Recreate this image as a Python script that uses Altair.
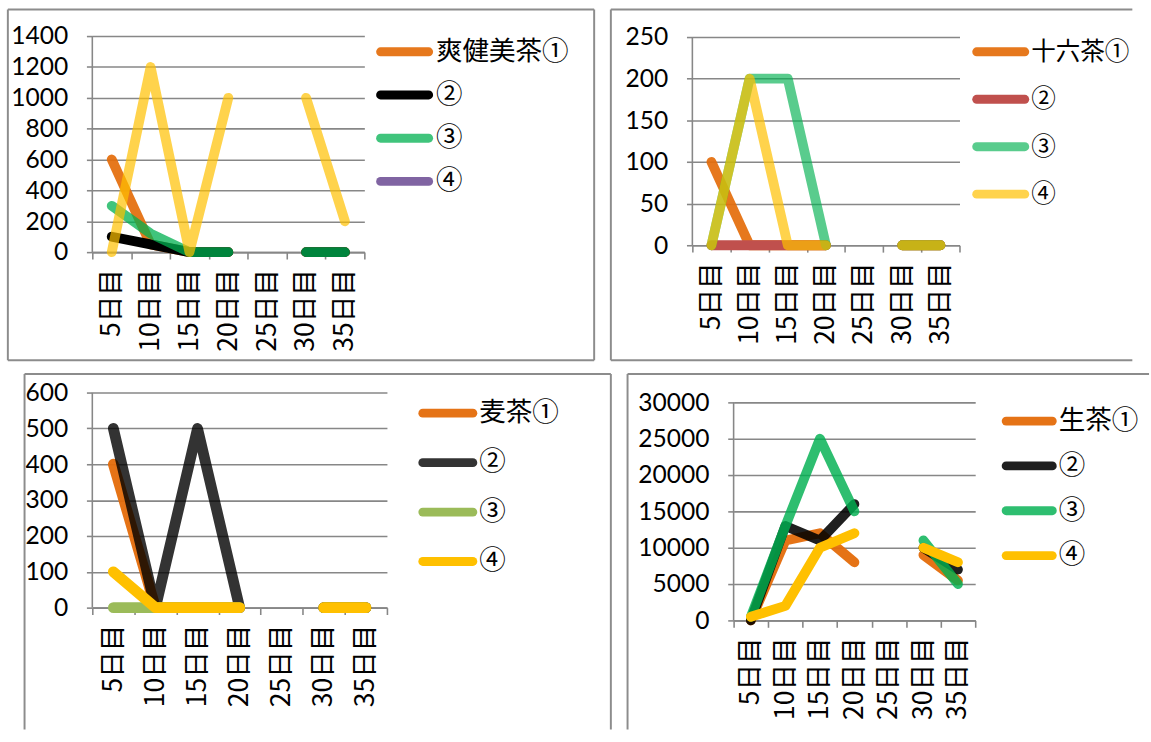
import altair as alt
import pandas as pd

# Shared category axis (days after opening)
days = ["5日目", "10日目", "15日目", "20日目", "25日目", "30日目", "35日目"]

# --- 爽健美茶 ---
soken_names = ["爽健美茶①", "②", "③", "④", "⑤"]
soken_1 = [600, 50, 0, 0, None, 0, 0]
soken_2 = [100, 50, 0, 0, None, 0, 0]
soken_3 = [300, 120, 0, 0, None, 0, 0]
soken_4 = [None, None, None, None, None, None, None]
soken_5 = [0, 1200, 0, 1000, None, 1000, 200]
soken_colors = ["rgba(228,108,10,0.92)", "rgba(0,0,0,1)", "rgba(0,176,80,0.75)",
                "rgba(128,100,162,1)", "rgba(255,192,0,0.7)"]
soken_ticks = [0, 200, 400, 600, 800, 1000, 1200, 1400]

# --- 十六茶 ---
juroku_names = ["十六茶①", "②", "③", "④"]
juroku_1 = [100, 0, 0, 0, None, 0, 0]
juroku_2 = [0, 0, 0, 0, None, 0, 0]
juroku_3 = [0, 200, 200, 0, None, 0, 0]
juroku_4 = [0, 200, 0, 0, None, 0, 0]
juroku_colors = ["rgba(228,108,10,0.92)", "rgba(192,80,77,1)", "rgba(0,176,80,0.65)",
                 "rgba(255,192,0,0.7)"]
juroku_ticks = [0, 50, 100, 150, 200, 250]

# --- 麦茶 ---
mugi_names = ["麦茶①", "②", "③", "④"]
mugi_1 = [400, 0, 0, 0, None, 0, 0]
mugi_2 = [500, 0, 500, 0, None, 0, 0]
mugi_3 = [0, 0, 0, 0, None, 0, 0]
mugi_4 = [100, 0, 0, 0, None, 0, 0]
mugi_colors = ["rgba(228,108,10,0.95)", "rgba(0,0,0,0.8)", "rgba(155,187,89,1)",
               "rgba(255,192,0,1)"]
mugi_ticks = [0, 100, 200, 300, 400, 500, 600]

# --- 生茶 ---
nama_names = ["生茶①", "②", "③", "④"]
nama_1 = [0, 11000, 12000, 8000, None, 9000, 5500]
nama_2 = [0, 13000, 11000, 16000, None, 10000, 7000]
nama_3 = [500, 13000, 25000, 15000, None, 11000, 5000]
nama_4 = [500, 2000, 10000, 12000, None, 10000, 8000]
nama_colors = ["rgba(228,108,10,0.95)", "rgba(0,0,0,0.88)", "rgba(0,176,80,0.82)",
               "rgba(255,192,0,1)"]
nama_ticks = [0, 5000, 10000, 15000, 20000, 25000, 30000]

GRID = "#878787"
FRAME = "#8c8c8c"
NUM_FONT = "Lato"
CJK_FONT = "Noto Sans CJK JP"
ONE_ROW = alt.Data(values=[{"edge": 1}])


def edge(x0, x1, y0, y1):
    """One straight side of a panel border, in pixels from the group origin."""
    enc = {"x": alt.value(x0), "y": alt.value(y0)}
    if x1 != x0:
        enc["x2"] = alt.value(x1)
    if y1 != y0:
        enc["y2"] = alt.value(y1)
    return alt.Chart(ONE_ROW).mark_rule(stroke=FRAME, strokeWidth=2).encode(**enc)


def panel(names, series, colors, ticks, origin, plot_top, width, height,
          frame, sides, legend, line_w=10, day_font=27, day_pad=10):
    """origin: page position of the group; everything else is given in page
    pixels too and converted to group-relative offsets here."""
    ox, oy = origin
    gap = plot_top - oy                     # blank band above the top gridline
    full_h = height + gap
    y_max = ticks[-1] * full_h / height     # scale top so the gap stays empty
    yscale = alt.Scale(domain=[ticks[0], y_max], nice=False)

    rows = []
    for name, vals in zip(names, series):
        for day, v in zip(days, vals):
            rows.append({"day": day, "series": name, "value": v})
    df = pd.DataFrame(rows)

    lines = alt.Chart(df).mark_line(
        strokeWidth=line_w, strokeCap="round", strokeJoin="round",
        invalid="break-paths-show-domains",
    ).encode(
        x=alt.X("day:N",
                scale=alt.Scale(type="band", domain=days,
                                paddingInner=0, paddingOuter=0),
                axis=alt.Axis(title=None, labelAngle=270, tickBand="extent",
                              grid=False, domainColor=GRID, domainWidth=1.6,
                              tickColor=GRID, tickWidth=1.6, tickSize=7,
                              labelFont=CJK_FONT, labelFontSize=day_font,
                              labelColor="black", labelPadding=day_pad)),
        y=alt.Y("value:Q", scale=yscale,
                axis=alt.Axis(title=None, orient="left", values=ticks, format="d",
                              grid=True, gridColor=GRID, gridWidth=1.6,
                              domain=False, tickColor=GRID, tickWidth=1.6,
                              tickSize=6, labelFont=NUM_FONT, labelFontSize=25,
                              labelColor="black", labelPadding=19)),
        color=alt.Color("series:N",
                        scale=alt.Scale(domain=names, range=colors),
                        legend=None),
    )

    # vertical axis line from 0 up to the top tick only
    axis_line = alt.Chart(ONE_ROW).mark_rule(stroke=GRID, strokeWidth=1.6).encode(
        x=alt.value(0),
        y=alt.Y(datum=ticks[0], scale=yscale, axis=None),
        y2=alt.Y2(datum=ticks[-1]),
    )

    # legend: swatch + label per listed series
    sx0, sx1, ly0, ly1, tx, fsize = legend
    leg_df = pd.DataFrame({"series": names[:4], "color": colors[:4]})
    leg_y = alt.Y("series:N", axis=None,
                  scale=alt.Scale(type="point", domain=names[:4], padding=0,
                                  range=[ly0 - oy, ly1 - oy]))
    swatch = alt.Chart(leg_df).mark_rule(strokeWidth=9, strokeCap="round").encode(
        x=alt.value(sx0 - ox + 4.5), x2=alt.value(sx1 - ox - 4.5), y=leg_y,
        color=alt.Color("color:N", scale=None),
    )
    label = alt.Chart(leg_df).mark_text(
        align="left", baseline="middle", font=CJK_FONT, fontSize=fsize, color="black"
    ).encode(x=alt.value(tx - ox), y=leg_y, text="series:N")

    left, right, top, bottom = (frame[0] - ox, frame[1] - ox,
                                frame[2] - oy, frame[3] - oy)
    border = []
    if "top" in sides:
        border.append(edge(left, right, top, top))
    if "bottom" in sides:
        border.append(edge(left, right, bottom, bottom))
    if "left" in sides:
        border.append(edge(left, left, top, bottom))
    if "right" in sides:
        border.append(edge(right, right, top, bottom))

    return alt.layer(*border, axis_line, lines, swatch, label).resolve_scale(
        y="independent", color="independent"
    ).properties(width=width, height=full_h)


p1 = panel(soken_names, [soken_1, soken_2, soken_3, soken_4, soken_5], soken_colors,
           soken_ticks, (93, 37), 37, 277, 220,
           (7, 604, 10, 367), ["top", "bottom", "left", "right"],
           (382, 440, 53, 185, 443, 27))
p2 = panel(juroku_names, [juroku_1, juroku_2, juroku_3, juroku_4], juroku_colors,
           juroku_ticks, (702, 37), 38, 272, 212,
           (619, 1150, 10, 367), ["top", "bottom", "left"],
           (987, 1045, 53, 198, 1047, 25))
p3 = panel(mugi_names, [mugi_1, mugi_2, mugi_3, mugi_4], mugi_colors,
           mugi_ticks, (76, 398), 398, 300, 219,
           (7, 604, 379, 741), ["top", "left", "right"],
           (408, 468, 419, 570, 470, 27), line_w=11)
p4 = panel(nama_names, [nama_1, nama_2, nama_3, nama_4], nama_colors,
           nama_ticks, (727, 398), 408, 246, 222,
           (619, 1150, 379, 741), ["top", "left"],
           (1000, 1056, 427, 564, 1058, 27))

top_row = alt.hconcat(p1, p2, spacing=13).resolve_scale(
    color="independent", x="independent", y="independent")
bottom_row = alt.hconcat(p3, p4, spacing=13).resolve_scale(
    color="independent", x="independent", y="independent")

# the page adds a small band above the chart, so the top padding stays tight
chart = alt.vconcat(top_row, bottom_row, spacing=10).resolve_scale(
    color="independent", x="independent", y="independent"
).properties(
    padding={"left": 6, "top": 1, "right": 0, "bottom": 0},
    background="white",
).configure_view(stroke="transparent")

chart.save("out.html", embed_options={"renderer": "svg", "actions": False})
